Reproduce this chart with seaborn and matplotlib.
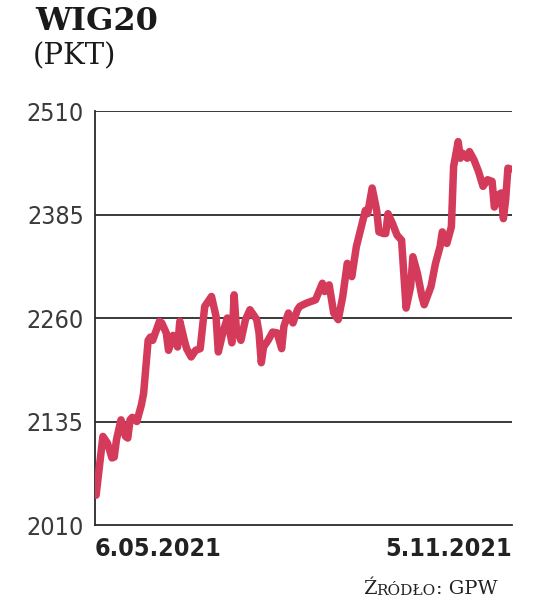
import pandas as pd
import numpy as np
import matplotlib.pyplot as plt
import seaborn as sns

# WIG20 closing level (days counted from 6.05.2021)
days = [0, 3, 5, 7, 8, 9, 11, 13, 14, 15, 16, 18, 20, 21, 23, 24, 25, 28, 29, 31,
        32, 34, 36, 37, 39, 40, 42, 44, 46, 48, 51, 53, 54, 56, 58, 60, 61, 62, 64, 66,
        68, 71, 72, 73, 74, 76, 78, 80, 82, 83, 85, 87, 89, 90, 93, 97, 100, 101, 103, 105,
        107, 109, 111, 113, 115, 117, 119, 120, 122, 124, 125, 127, 128, 129, 131, 133, 135, 137, 139, 140,
        142, 144, 145, 148, 150, 152, 153, 155, 157, 158, 160, 161, 162, 164, 165, 167, 169, 171, 173, 175,
        176, 178, 179, 180, 181, 182, 183]
points = [2046, 2117, 2109, 2091, 2092, 2113, 2137, 2117, 2115, 2137, 2140, 2135, 2155, 2169, 2233, 2237, 2233, 2256, 2254, 2242,
          2221, 2239, 2225, 2256, 2233, 2223, 2213, 2221, 2223, 2274, 2286, 2262, 2219, 2242, 2260, 2230, 2288, 2246, 2233, 2258,
          2270, 2258, 2242, 2206, 2225, 2233, 2243, 2242, 2223, 2250, 2266, 2254, 2270, 2274, 2278, 2282, 2302, 2292, 2300, 2266,
          2258, 2286, 2326, 2310, 2346, 2368, 2390, 2386, 2417, 2390, 2364, 2362, 2362, 2386, 2374, 2360, 2354, 2272, 2298, 2334,
          2314, 2286, 2276, 2298, 2326, 2346, 2364, 2350, 2370, 2443, 2473, 2453, 2459, 2453, 2461, 2451, 2437, 2419, 2427, 2425,
          2394, 2409, 2411, 2380, 2403, 2441, 2440]

y_ticks = [2010, 2135, 2260, 2385, 2510]
x_labels = ["6.05.2021", "5.11.2021"]

df = pd.DataFrame({"Date": pd.Timestamp("2021-05-06") + pd.to_timedelta(days, unit="D"),
                   "WIG20": points})

sns.set_style("white")
plt.rcParams["font.family"] = ["DejaVu Sans"]
plt.rcParams["font.stretch"] = "condensed"

fig = plt.figure(figsize=(5.36, 6.02), dpi=100)
ax = fig.add_axes([0.1772, 0.1279, 0.7778, 0.6877])

sns.lineplot(data=df, x="Date", y="WIG20", color="#d43b5b", linewidth=5.4,
             solid_capstyle="round", solid_joinstyle="round", ax=ax, zorder=3)

ax.set_ylim(y_ticks[0], y_ticks[-1])
ax.set_xlim(df["Date"].iloc[0] - pd.Timedelta(hours=12), df["Date"].iloc[-1] + pd.Timedelta(hours=18))
ax.set_yticks(y_ticks)
ax.set_yticklabels([str(t) for t in y_ticks], fontsize=18, color="#3a3a3a",
                   fontstretch="condensed")
ax.tick_params(axis="y", length=0, pad=8)
ax.set_xticks([])
ax.set_xlabel("")
ax.set_ylabel("")

for t in y_ticks[1:]:
    ax.axhline(t, color="#2a2a2a", linewidth=1.3, zorder=1)

for s in ["top", "right"]:
    ax.spines[s].set_visible(False)
for s in ["left", "bottom"]:
    ax.spines[s].set_color("#2a2a2a")
    ax.spines[s].set_linewidth(1.3)

ax.text(0, -0.028, x_labels[0], transform=ax.transAxes, ha="left", va="top",
        fontsize=18, fontweight="bold", fontstretch="condensed", color="#222222")
ax.text(1, -0.028, x_labels[1], transform=ax.transAxes, ha="right", va="top",
        fontsize=18, fontweight="bold", fontstretch="condensed", color="#222222")

fig.text(35 / 536, 1 - 6 / 602, "WIG20", ha="left", va="top", fontsize=23,
         fontweight="heavy", family=["DejaVu Serif"], fontstretch="normal", color="#1a1a1a")
fig.text(33 / 536, 1 - 42 / 602, "(PKT)", ha="left", va="top", fontsize=21,
         family=["DejaVu Serif"], fontstretch="normal", color="#1a1a1a")

# source line in small caps
src1 = fig.text(363 / 536, 1 - 594 / 602, "Ź", ha="left", va="baseline", fontsize=14,
                family=["DejaVu Serif"], fontstretch="normal", color="#222222")
src2 = ax.annotate("RÓDŁO", xy=(1, 0), xycoords=src1, va="bottom", ha="left",
                   fontsize=11, family=["DejaVu Serif"], fontstretch="normal", color="#222222")
ax.annotate(": GPW", xy=(1, 0), xycoords=src2, va="bottom", ha="left",
            fontsize=14, family=["DejaVu Serif"], fontstretch="normal", color="#222222")

plt.savefig("out.png", dpi=100)
